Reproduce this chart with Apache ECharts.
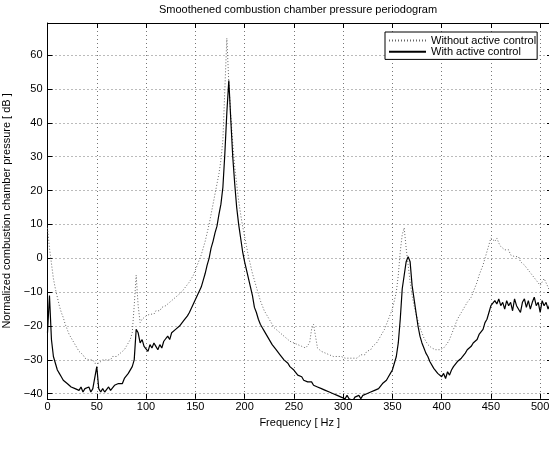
<!DOCTYPE html>
<html><head><meta charset="utf-8">
<script src="https://cdn.jsdelivr.net/npm/echarts@6/dist/echarts.min.js"></script>
<style>html,body{margin:0;padding:0;background:#fff}#c{width:549px;height:452px}</style>
</head><body><div id="c"></div>
<script>
// Frequency sampling grid [Hz]: 0, 2, 4, ... 512
const freqHz = Array.from({length: 257}, (_, i) => i * 2);

// Without active control (dotted), dB
const withoutControl = [
  9, 3, -1.5, -6, -9, -11.5, -14, -16, -17.5, -19.5,
  -21, -22.5, -23.5, -24.5, -25.5, -26.5, -27.5, -28, -28.5, -29.5,
  -29.5, -30, -30.5, -30, -31, -30.5, -31, -30.5, -30, -30.5,
  -30, -29.5, -30, -29, -29.5, -29, -28.5, -28, -27.5, -27,
  -26, -25.5, -24, -22, -14, -5, -14, -19, -18, -17.5,
  -17, -17.5, -16.5, -16, -16.5, -15.5, -15, -15.5, -14.5, -14.5,
  -14, -13.5, -13, -12.5, -12, -11.5, -11, -10.5, -10, -9.5,
  -8.5, -8, -7, -6, -5, -3.5, -2, -0.5, 1, 3,
  5, 7.5, 10, 13, 16, 19, 22, 25, 29, 35,
  50, 65, 52, 42, 34, 27, 22, 17, 13, 9.5,
  6.5, 3.5, 0.5, -2, -4.5, -6.5, -8.5, -10.5, -12.5, -14,
  -15.5, -16.5, -17.5, -18.5, -19.5, -20.5, -21, -21.5, -22, -22.5,
  -23, -23.5, -24, -24.5, -24.5, -25, -25.5, -25.5, -26, -26,
  -26.5, -26.5, -26, -25, -21, -19.5, -23, -26.5, -27, -27.5,
  -27.5, -28, -28, -28.5, -28.5, -29, -28.5, -29, -29.5, -29,
  -29.5, -29.5, -30, -29.5, -30, -29.5, -29, -29.5, -29, -28.5,
  -28, -28.5, -27.5, -27, -27, -26, -25.5, -25, -24, -23,
  -22, -21, -19.5, -18, -16.5, -15, -12.5, -10, -5, 2,
  7, 9, 3, -2, -7, -11, -14, -16.5, -18.5, -20.5,
  -22, -23.5, -24.5, -25.5, -26, -26.5, -27, -27, -27.5, -27,
  -27.5, -26.5, -26, -25, -24, -22.5, -21, -19.5, -18, -17,
  -16, -15, -14, -13, -12.5, -11.5, -10, -8.5, -7, -5,
  -3.5, -2, 0, 2, 4, 6, 6.5, 5, 6, 4.5,
  3.5, 4, 2.5, 2, 2.5, 1, 1.5, 0.5, 0, 0.5,
  -1, -1.5, -2, -2.5, -3.5, -3.5, -5, -5.5, -6.5, -7,
  -8, -7.5, -6, -6.5, -8.5, -10, -11
];

// With active control (solid), dB
const withControl = [
  -22, -11, -24, -29, -31, -33, -34, -35, -36, -35.5,
  -37, -36.5, -38, -37.5, -38.5, -38, -39, -38, -39.5, -38.5,
  -39, -38, -39.5, -38.5, -39, -32, -38.5, -39.5, -38.5, -39.5,
  -39, -38, -39, -38.5, -37.5, -38, -37, -36.5, -37, -35.5,
  -35, -34, -33.5, -32, -30, -21, -22, -25, -24, -26,
  -26, -27.5, -25.5, -26.5, -25, -26, -27, -25.5, -26.5, -24.5,
  -25, -23, -24, -22, -22.5, -21, -21.5, -20, -20.5, -18.5,
  -19, -17, -16, -15.5, -13.5, -13, -11, -10.5, -8.5, -6.5,
  -4.5, -2, 0, 3, 5, 7.5, 9.5, 13, 16, 21,
  31, 43, 52.5, 41, 30, 22, 15, 10, 6, 2,
  -1, -3.5, -6, -8.5, -11, -14.5, -16, -18, -19.5, -20.5,
  -21.5, -22, -23.5, -24, -25.5, -26, -27, -27.5, -28.5, -29,
  -30, -30.5, -31, -32, -32.5, -33, -33.5, -34.5, -35, -35,
  -36, -35.5, -36.5, -37, -36.5, -37.5, -37, -38, -37.5, -38.5,
  -38, -39, -38.5, -39.5, -39, -40, -39.5, -40.5, -40, -41,
  -40.5, -41.5, -40.5, -41.5, -41, -42, -41, -41.5, -40.5, -41.5,
  -40.5, -41, -40, -40.5, -39.5, -40, -39, -39.5, -38.5, -38,
  -37, -37.5, -36, -35, -34, -33, -31, -29, -25, -18,
  -9, -5, -1, 0.5, -1, -8, -12, -16, -20, -23,
  -25, -26.5, -28, -29, -30.5, -31, -32.5, -33, -34, -33.5,
  -35, -34, -35.5, -33.5, -34.5, -33, -32, -32.5, -30.5, -31,
  -29.5, -29, -28, -27, -27.5, -26, -25, -25.5, -24, -22.5,
  -23, -21, -19, -18, -16, -14, -14.5, -12.5, -13.5, -12,
  -14, -13, -15, -12.5, -14, -13, -15.5, -12, -14, -13.5,
  -16, -13, -12, -14.5, -12.5, -15, -13, -11.5, -14, -13,
  -16, -12.5, -14, -13, -15, -13.5, -14
];

const seriesNames = ['Without active control', 'With active control'];
const titleText = 'Smoothened combustion chamber pressure periodogram';
const xName = 'Frequency [ Hz ]';
const yName = 'Normalized combustion chamber pressure [ dB ]';
const xMin = 0, xMax = 512, xStep = 50;
const yMin = -41.5, yMax = 69.5, yStep = 10;

const FONT = '"Liberation Sans", Arial, Helvetica, sans-serif';
const fmtNum = v => (v < 0 ? '\u2212' + Math.abs(v) : String(v));

const chart = echarts.init(document.getElementById('c'), null, {renderer: 'canvas'});
const gridLine = {show: true, lineStyle: {color: '#777', width: 1, type: [1, 3]}};
const tick = {show: true, inside: true, length: 5, lineStyle: {color: '#000', width: 1}};
const axLine = {show: true, onZero: false, lineStyle: {color: '#000', width: 1}};

chart.setOption({
  animation: false,
  backgroundColor: '#fff',
  textStyle: {fontFamily: FONT},
  graphic: [{
    type: 'text', x: 298, y: 10, z: 100,
    style: {text: titleText, fill: '#000', font: '11px ' + FONT,
            align: 'center', verticalAlign: 'middle', textAlign: 'center', textVerticalAlign: 'middle'}
  }],
  grid: {left: 47.5, right: -3, top: 23, bottom: 452 - 398.8, show: false,
         containLabel: false, outerBoundsMode: 'none'},
  legend: {
    orient: 'vertical', left: 385, top: 32,
    data: seriesNames,
    backgroundColor: '#fff', borderColor: '#000', borderWidth: 1,
    padding: [3, 1, 2, 3], itemWidth: 37, itemHeight: 14, itemGap: 0,
    itemStyle: {opacity: 0, borderWidth: 0},
    textStyle: {color: '#000', fontSize: 11, fontFamily: FONT},
    selectedMode: false
  },
  xAxis: [{
    type: 'value', min: xMin, max: xMax, interval: xStep, position: 'bottom',
    axisLine: axLine, axisTick: tick,
    axisLabel: {color: '#000', fontSize: 11, fontFamily: FONT, margin: 3,
      formatter: v => (v % xStep === 0 ? fmtNum(v) : '')},
    splitLine: gridLine,
    name: xName, nameLocation: 'middle', nameGap: 15,
    nameTextStyle: {color: '#000', fontSize: 11, fontFamily: FONT}
  }, {
    type: 'value', min: xMin, max: xMax, interval: xStep, position: 'top',
    axisLine: axLine, axisTick: tick, axisLabel: {show: false}, splitLine: {show: false}
  }],
  yAxis: [{
    type: 'value', min: yMin, max: yMax, splitNumber: 11, position: 'left',
    axisLine: axLine, axisTick: tick,
    axisLabel: {color: '#000', fontSize: 11, fontFamily: FONT, margin: 5,
      formatter: v => (Math.abs(v % yStep) < 1e-9 ? fmtNum(v) : '')},
    splitLine: gridLine,
    name: yName, nameLocation: 'middle', nameGap: 24,
    nameTextStyle: {color: '#000', fontSize: 11, fontFamily: FONT}
  }, {
    type: 'value', min: yMin, max: yMax, splitNumber: 11, position: 'right',
    axisLine: axLine, axisTick: tick, axisLabel: {show: false}, splitLine: {show: false}
  }],
  series: [{
    name: seriesNames[0], type: 'line', xAxisIndex: 0, yAxisIndex: 0,
    data: freqHz.map((f, i) => [f, withoutControl[i]]),
    symbol: 'none', showSymbol: false, clip: true,
    lineStyle: {color: '#666', width: 1, type: [1, 2]},
    itemStyle: {color: '#666'}, z: 3
  }, {
    name: seriesNames[1], type: 'line', xAxisIndex: 0, yAxisIndex: 0,
    data: freqHz.map((f, i) => [f, withControl[i]]),
    symbol: 'none', showSymbol: false, clip: true,
    lineStyle: {color: '#000', width: 1.2, type: 'solid'},
    itemStyle: {color: '#000'}, z: 4
  }]
});
</script>
</body></html>
